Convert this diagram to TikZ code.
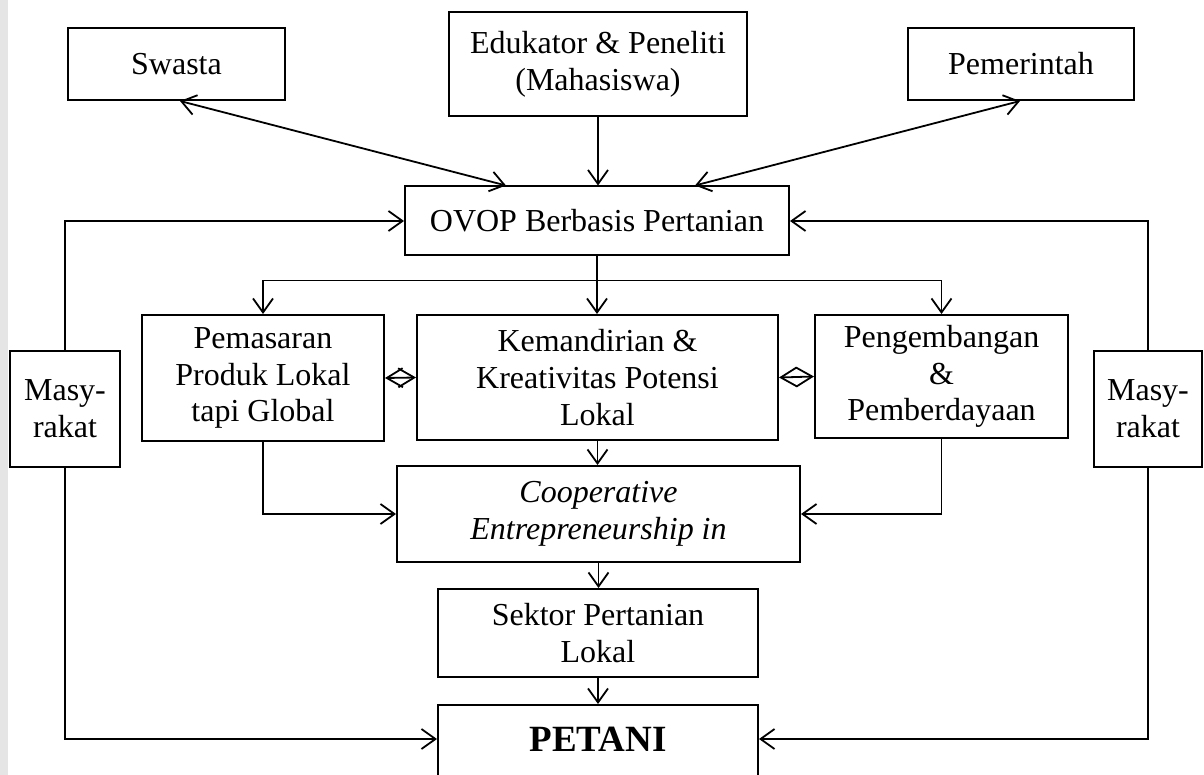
\documentclass[tikz,border=0pt]{standalone}
\usepackage{fontspec}
\setmainfont{Liberation Serif}
\usetikzlibrary{arrows.meta}
\begin{document}
\begin{tikzpicture}[x=1pt,y=-1pt,
  box/.style={draw,line width=2pt,fill=white,inner sep=0pt,align=center,
    font=\fontsize{32}{36.8}\selectfont},
  arr/.style={line width=1.8pt,-{Straight Barb[length=14pt,width=20pt]}},
  dbl/.style={line width=1.8pt,{Straight Barb[length=16pt,width=19pt]}-{Straight Barb[length=16pt,width=19pt]}},
  both/.style={line width=1.8pt,{Straight Barb[length=14pt,width=20pt]}-{Straight Barb[length=14pt,width=20pt]}},
  ln/.style={line width=1.8pt}]
\useasboundingbox (0,0) rectangle (1204,775);
\fill[gray!20] (0,0) rectangle (8,775);

\node[box,minimum width=217pt,minimum height=72pt] (swasta) at (176.5,64) {Swasta};
\node[box,minimum width=298pt,minimum height=104pt] (edu) at (598,64) {Edukator \& Peneliti\\(Mahasiswa)};
\node[box,minimum width=226pt,minimum height=72pt] (pemer) at (1021,64) {Pemerintah};
\node[box,minimum width=384pt,minimum height=69pt] (ovop) at (597,221) {OVOP Berbasis Pertanian};
\node[box,minimum width=110pt,minimum height=116pt] (masL) at (65,409) {Masy-\\rakat};
\node[box,minimum width=108pt,minimum height=116pt] (masR) at (1148,409) {Masy-\\rakat};
\node[box,minimum width=242pt,minimum height=126pt] (pem) at (263,378) {Pemasaran\\Produk Lokal\\tapi Global};
\node[box,minimum width=361pt,minimum height=125pt] (kem) at (597.5,377.5) {Kemandirian \&\\Kreativitas Potensi\\Lokal};
\node[box,minimum width=253pt,minimum height=123pt] (peng) at (941.5,376.5) {Pengembangan\\\&\\Pemberdayaan};
\node[box,minimum width=403pt,minimum height=96pt] (coop) at (598.5,514) {\itshape Cooperative\\\itshape Entrepreneurship in};
\node[box,minimum width=320pt,minimum height=88pt] (sektor) at (598,633) {Sektor Pertanian\\Lokal};
\node[box,anchor=north,minimum width=320pt,text height=46pt,text depth=50pt,
  font=\fontsize{37}{40}\selectfont\bfseries] (petani) at (598,704) {PETANI};

% top arrows
\draw[both] ([xshift=3.5pt]swasta.south) -- ([xshift=-91pt]ovop.north);
\draw[arr] (edu.south) -- (edu.south |- ovop.north);
\draw[both] ([xshift=-1pt]pemer.south) -- ([xshift=98pt]ovop.north);

% branch
\coordinate (br) at ([yshift=-24pt]ovop.south);
\draw[ln] (ovop.south) -- (br);
\draw[ln] (pem.north |- br) -- (peng.north |- br);
\draw[arr] (pem.north |- br) -- (pem.north);
\draw[arr] (br) -- (br |- kem.north);
\draw[arr] (peng.north |- br) -- (peng.north);

% between middle boxes
\draw[dbl] (pem.east) -- (kem.west);
\draw[dbl] (kem.east) -- (peng.west);

% to cooperative
\draw[arr] (pem.south) |- (coop.west);
\draw[arr] (peng.south) |- (coop.east);
\draw[arr] (kem.south) -- (kem.south |- coop.north);
\draw[arr] (coop.south) -- (coop.south |- sektor.north);
\draw[arr] (sektor.south) -- (petani.north);

% Masyarakat loops
\draw[arr] (masL.north) |- (ovop.west);
\draw[arr] (masR.north) |- (ovop.east);
\draw[arr] (masL.south) |- ([yshift=14pt]petani.west);
\draw[arr] (masR.south) |- ([yshift=14pt]petani.east);
\end{tikzpicture}
\end{document}
